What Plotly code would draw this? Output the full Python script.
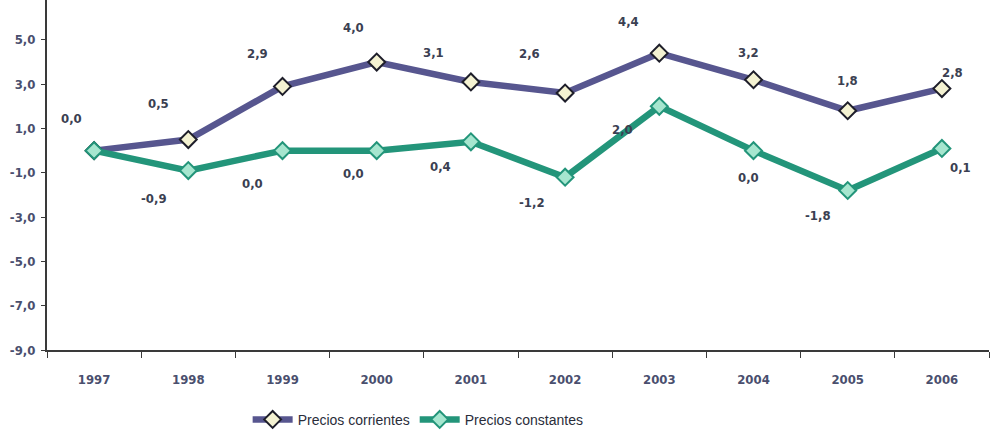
import plotly.graph_objects as go

years = ["1997", "1998", "1999", "2000", "2001", "2002", "2003", "2004", "2005", "2006"]
corrientes = [0.0, 0.5, 2.9, 4.0, 3.1, 2.6, 4.4, 3.2, 1.8, 2.8]
constantes = [0.0, -0.9, 0.0, 0.0, 0.4, -1.2, 2.0, 0.0, -1.8, 0.1]
y_ticks = [5, 3, 1, -1, -3, -5, -7, -9]
y_ticktext = ["5,0", "3,0", "1,0", "-1,0", "-3,0", "-5,0", "-7,0", "-9,0"]

# label offsets (pixels) for the data labels
corr_dx = [-23, -30, -25, -23, -37, -36, -31, -5, 0, 11]
corr_dy = [32, 36, 33, 35, 29, 40, 32, 27, 30, 16]
cons_dx = [None, -34, -30, -23, -30, -33, -37, -5, -30, 19]
cons_dy = [None, -28, -33, -23, -25, -25, -23, -27, -25, -19]

PURPLE = "#57568f"
GREEN = "#23957a"
TXT = "#3b3f52"
FONT = "Liberation Sans Narrow, Arial Narrow, DejaVu Sans Condensed, sans-serif"


def fmt(v):
    return f"{v:.1f}".replace(".", ",")


fig = go.Figure()
fig.add_trace(go.Scatter(
    x=years, y=corrientes, name="Precios corrientes", mode="lines+markers",
    line=dict(color=PURPLE, width=6.5),
    marker=dict(symbol="diamond", size=13, color="#f4f2d2",
                line=dict(color="#1e1e2a", width=2)),
))
fig.add_trace(go.Scatter(
    x=years, y=constantes, name="Precios constantes", mode="lines+markers",
    line=dict(color=GREEN, width=6.5),
    marker=dict(symbol="diamond", size=13, color="#a6e6cf",
                line=dict(color=GREEN, width=2)),
))

annotations = []
for i, v in enumerate(corrientes):
    annotations.append(dict(x=i, y=v, xref="x", yref="y", text=fmt(v),
                            showarrow=False, xshift=corr_dx[i], yshift=corr_dy[i],
                            font=dict(family=FONT, size=13, color=TXT, weight="bold")))
for i, v in enumerate(constantes):
    if cons_dx[i] is None:
        continue
    annotations.append(dict(x=i, y=v, xref="x", yref="y", text=fmt(v),
                            showarrow=False, xshift=cons_dx[i], yshift=cons_dy[i],
                            font=dict(family=FONT, size=13, color=TXT, weight="bold")))

fig.update_layout(
    width=990, height=431,
    margin=dict(l=47, r=1, t=0, b=81, autoexpand=False),
    paper_bgcolor="white", plot_bgcolor="white",
    showlegend=True,
    legend=dict(orientation="h", x=0.394, xanchor="center",
                yref="container", y=0.026, yanchor="middle",
                font=dict(family="Liberation Sans, Arial, sans-serif", size=14, color="#2a2d3a"),
                itemwidth=40, tracegroupgap=0, bgcolor="rgba(0,0,0,0)"),
    annotations=annotations,
    xaxis=dict(type="category", range=[-0.5, len(years) - 0.5], autorange=False,
               automargin=False,
               showgrid=False, zeroline=False,
               showline=True, linecolor="#3a3a3a", linewidth=2,
               ticks="outside", tickson="boundaries", ticklen=6, tickcolor="#3a3a3a",
               tickangle=0,
               tickfont=dict(family=FONT, size=13, color="#4a4f6e", weight="bold"),
               ticklabelstandoff=16),
    yaxis=dict(range=[-9, 6.8], autorange=False, automargin=False,
               showgrid=False, zeroline=False,
               showline=True, linecolor="#3a3a3a", linewidth=2,
               tickvals=y_ticks, ticktext=y_ticktext,
               ticks="outside", ticklen=4, tickcolor="#3a3a3a",
               tickfont=dict(family=FONT, size=13, color="#4a4f6e", weight="bold"),
               ticklabelstandoff=3),
)

fig.write_html("out.html", config={"displayModeBar": False},
               post_script="document.body.style.margin='0px';")
